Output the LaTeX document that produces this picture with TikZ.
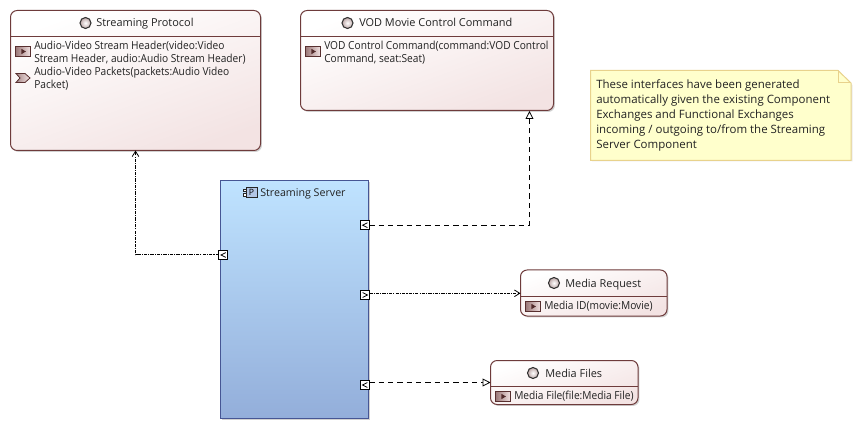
\documentclass[tikz,border=0pt]{standalone}
\usepackage{fontspec}
\setmainfont{Open Sans}
\newfontfamily\opfont[FakeStretch=0.92]{Open Sans}
\usetikzlibrary{arrows.meta,shadows,calc}
\definecolor{ifborder}{HTML}{6E3B3B}
\definecolor{ifend}{HTML}{F3E3E3}
\definecolor{ssborder}{HTML}{465694}
\definecolor{sstop}{HTML}{BFE3FF}
\definecolor{ssbot}{HTML}{93AEDA}
\definecolor{notefill}{HTML}{FFFFCC}
\definecolor{noteline}{HTML}{E8D28C}
\definecolor{txt}{HTML}{222222}
\tikzset{
  softshadow/.style={general shadow={shadow xshift=1.1pt,shadow yshift=-1.1pt,fill=black,opacity=.18}},
  ifacebox/.style n args={2}{rectangle,draw=ifborder,line width=.75pt,rounded corners=5pt,
    shading=axis,left color=white,right color=ifend,shading angle=20,softshadow,
    minimum width=#1*.75pt,minimum height=#2*.75pt,inner sep=0pt,outer sep=0pt},
  serverbox/.style={rectangle,draw=ssborder,line width=.75pt,top color=sstop,bottom color=ssbot,softshadow,
    minimum width=147.5*.75pt,minimum height=237.5*.75pt,inner sep=0pt,outer sep=0pt},
  title/.style={font=\fontsize{8.2}{10}\selectfont,text=txt,inner sep=0pt,anchor=base west},
  opertext/.style={font=\opfont\fontsize{8.3}{9.5}\selectfont,text=txt,inner sep=0pt,anchor=north west,align=left},
  ball/.style={circle,draw=black!80,line width=.8pt,inner sep=0pt,minimum size=8.25pt,
    inner color=white,outer color=ifborder!45},
  methodicon/.style={rectangle,draw=ifborder!80!black,line width=.6pt,inner sep=0pt,outer sep=0pt,
    minimum width=11.5pt,minimum height=7pt,left color=ifborder!70,right color=ifend,
    path picture={\fill[ifborder!75!black] ($(path picture bounding box.center)+(-1.2pt,-2pt)$) -- ++(3.4pt,2pt) -- ++(-3.4pt,2pt) -- cycle;}},
  portbox/.style={rectangle,draw=black,line width=.75pt,fill=white,inner sep=0pt,outer sep=0pt,minimum size=6.6pt},
  portin/.style={portbox,path picture={\draw[black,line width=.6pt] ($(path picture bounding box.center)+(1.8pt,1.8pt)$) -- ++(-3.6pt,-1.8pt) -- ++(3.6pt,-1.8pt);}},
  portout/.style={portbox,path picture={\draw[black,line width=.6pt] ($(path picture bounding box.center)+(-1.8pt,1.8pt)$) -- ++(3.6pt,-1.8pt) -- ++(-3.6pt,-1.8pt);}},
  conn/.style={black,line width=.75pt},
  realize/.style={conn,dash pattern=on 4pt off 3pt,-{Triangle[fill=white,length=6pt,width=6pt,line width=.6pt]}},
  useline/.style={conn,dash pattern=on 2.5pt off .8pt on .8pt off .8pt,-{Straight Barb[length=4pt,width=5pt,line width=.6pt]}},
}
\begin{document}
\begin{tikzpicture}[x=.75pt,y=-.75pt]
\useasboundingbox (0,0) rectangle (861,431);
\fill[white] (0,0) rectangle (861,431);

% Streaming Protocol
\node[ifacebox={250}{140}] (proto) at (135.5,80.5) {};
\draw[ifborder,line width=.75pt] (10.5,36.5) -- (260.5,36.5);
\node[ball] (protoball) at (85.5,23) {};
\node[title] (prototitle) at (96,27) {Streaming Protocol};
\node[methodicon] (protom1) at (23,51.5) {};
\node[opertext] (protot1) at (34,41) {Audio-Video Stream Header(video:Video\\Stream Header, audio:Audio Stream Header)};
\draw[ifborder!80!black,line width=.6pt,left color=ifborder!60,right color=ifend]
  (16,73.5) -- (25,73.5) -- (30,78) -- (25,82.5) -- (16,82.5) -- (20,78) -- cycle;
\node[opertext] (protot2) at (34,67) {Audio-Video Packets(packets:Audio Video\\Packet)};

% VOD Movie Control Command
\node[ifacebox={253}{100}] (vod) at (427,60.5) {};
\draw[ifborder,line width=.75pt] (300.5,36.5) -- (553.5,36.5);
\node[ball] (vodball) at (347.5,23) {};
\node[title] (vodtitle) at (359,27) {VOD Movie Control Command};
\node[methodicon] (vodm1) at (313,51.5) {};
\node[opertext] (vodt1) at (324,41) {VOD Control Command(command:VOD Control\\Command, seat:Seat)};

% Note
\path[fill=black,opacity=.08] (592,72) -- (838,72) -- (852.5,85) -- (852.5,161.5) -- (592,161.5) -- cycle;
\draw[noteline,fill=notefill,line width=.75pt] (590.5,70.5) -- (838,70.5) -- (851,83) -- (851,160.5) -- (590.5,160.5) -- cycle;
\draw[noteline,line width=.75pt] (838,70.5) -- (838,83) -- (851,83);
\node[font=\fontsize{8.6}{11.25}\selectfont,text=txt,inner sep=0pt,anchor=north west,align=left] (notetext) at (596,79)
 {These interfaces have been generated\\automatically given the existing Component\\Exchanges and Functional Exchanges\\incoming / outgoing to/from the Streaming\\Server Component};

% Streaming Server
\node[serverbox] (server) at (294.5,299.5) {};
\node[rectangle,draw=black!85,line width=.7pt,fill=ssbot!70,inner sep=0pt,minimum width=8.2pt,minimum height=8pt,font=\fontsize{6.5}{7}\selectfont] (servericon) at (251.5,192.5) {P};
\draw[black!85,line width=.5pt,fill=white] (243.5,189) rectangle (246.5,191.5);
\draw[black!85,line width=.5pt,fill=white] (243.5,193.5) rectangle (246.5,196);
\node[title,font=\fontsize{8}{10}\selectfont] (servertitle) at (260,197) {Streaming Server};

% Media Request
\node[ifacebox={146.5}{46}] (req) at (593.75,293) {};
\draw[ifborder,line width=.75pt] (520.5,296.5) -- (667,296.5);
\node[ball] (reqball) at (554,283) {};
\node[title] (reqtitle) at (565,287) {Media Request};
\node[methodicon] (reqm1) at (533,306.5) {};
\node[opertext] (reqt1) at (544,301) {Media ID(movie:Movie)};

% Media Files
\node[ifacebox={147.5}{44}] (files) at (564.25,382.5) {};
\draw[ifborder,line width=.75pt] (490.5,386.5) -- (638,386.5);
\node[ball] (filesball) at (533,373) {};
\node[title] (filestitle) at (545,377) {Media Files};
\node[methodicon] (filesm1) at (503,396.5) {};
\node[opertext] (filest1) at (514,391) {Media File(file:Media File)};

% Ports
\node[portin] (portL) at (223.3,255) {};
\node[portin] (portA) at (365,225.2) {};
\node[portout] (portB) at (365,295) {};
\node[portin] (portC) at (365,385) {};

% Connector ends
\coordinate (vodin) at (529.5,111);
\coordinate (reqin) at (520.5,293.3);
\coordinate (filesin) at (490.5,382.5);

% Connectors
\draw[useline] (portL.west) -| (proto.south);
\draw[realize] (portA.east) -| (vodin);
\draw[useline] (portB.east |- reqin) -- (reqin);
\draw[realize] (portC.east |- filesin) -- (filesin);
\end{tikzpicture}
\end{document}
